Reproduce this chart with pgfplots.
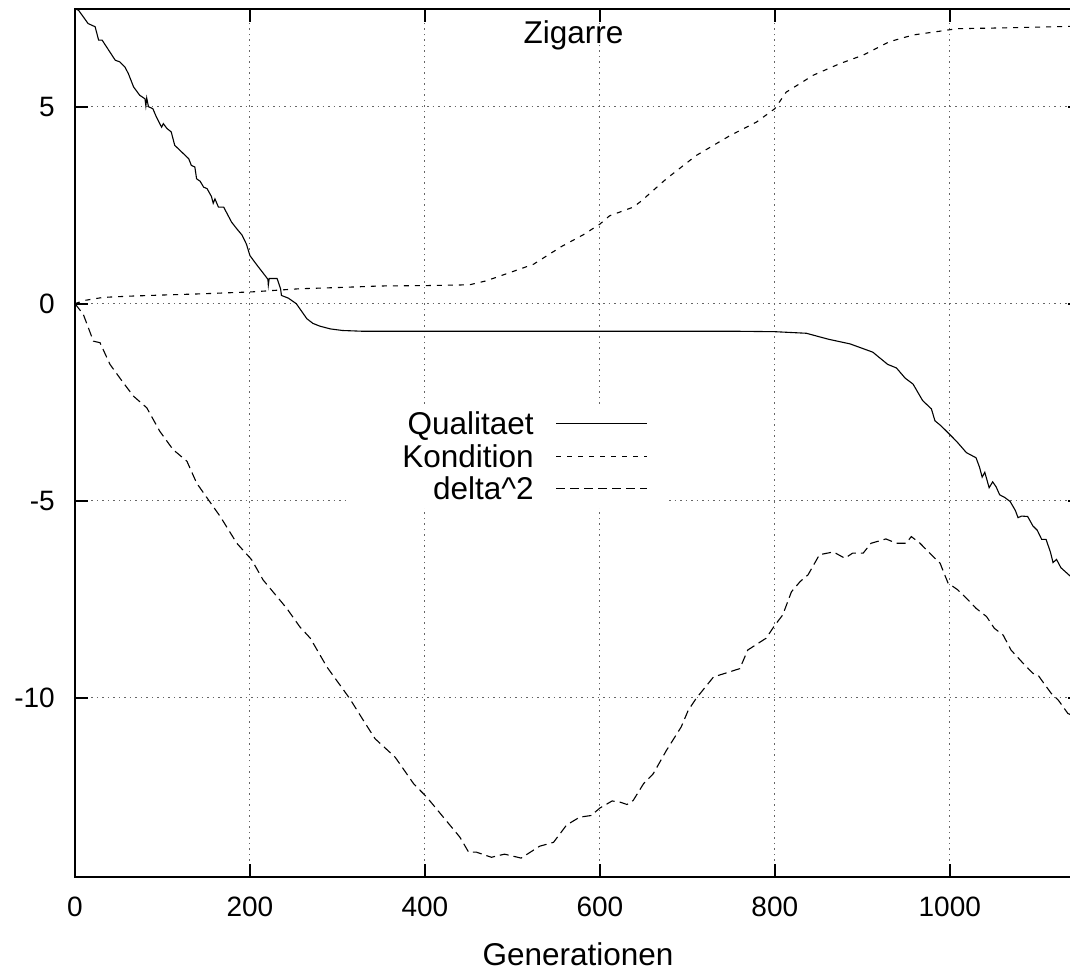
\documentclass[border=0pt]{standalone}
\usepackage{fontspec}
\setmainfont{Liberation Sans}
\usepackage{pgfplots}
\pgfplotsset{compat=1.18}
\newcommand{\F}{\fontsize{28bp}{32bp}\selectfont}
\newcommand{\G}{\fontsize{31.5bp}{36bp}\selectfont}
\begin{document}
\begin{tikzpicture}
\begin{axis}[
  scale only axis,
  width=1006bp, height=868bp,
  xmin=0, xmax=1150, ymin=-14.55, ymax=7.48,
  xtick={0,200,400,600,800,1000},
  xticklabels={0,200,400,600,800,1000},
  ytick={-10,-5,0,5},
  yticklabels={-10,-5,0,5},
  tick align=inside,
  major tick length=13bp,
  tick style={line width=2bp, black},
  axis line style={line width=2bp},
  grid=major,
  grid style={line width=1bp, black!60, dash pattern=on 1.5bp off 4bp},
  every tick label/.append style={inner sep=0pt, font=\F},
  xticklabel style={yshift=-20bp},
  yticklabel style={xshift=-20bp},
  xlabel={Generationen},
  xlabel style={at={(axis description cs:0.5,0)}, anchor=base, yshift=-88bp, font=\G, inner sep=0pt, text depth=0pt},
  title={Zigarre},
  title style={at={(axis description cs:0.4955,1)}, anchor=base, yshift=-40bp, font=\G},
  legend plot pos=right,
  legend cell align=right,
  legend style={draw=none, fill=white, at={(0.5865,0.5445)}, anchor=north east,
    inner xsep=0pt, inner ysep=5bp, row sep=4.5bp, column sep=22bp, font=\G,
    nodes={inner sep=0pt, text height=25bp, text depth=3bp}},
  legend image code/.code={\draw[#1] (0bp,0bp) -- (91bp,0bp); \path (108bp,0bp);},
]
\addplot[black, line width=1.1bp] table[x=x, y=y] {
x y
0 7.48
4 7.45
15 7.11
23 7.03
27 6.69
31 6.69
46 6.18
51 6.14
57 6.01
61 5.84
67 5.50
74 5.29
80 5.20
81 5.02
82 5.22
84 5.00
89 4.95
93 4.74
99 4.48
101 4.57
105 4.45
110 4.36
114 4.02
122 3.85
130 3.68
133 3.51
137 3.47
139 3.17
143 3.11
147 2.96
151 2.92
156 2.72
158 2.55
160 2.66
164 2.45
170 2.45
179 2.07
185 1.90
191 1.74
196 1.51
200 1.22
208 0.98
215 0.78
220.5 0.62
221 0.47
222 0.64
231 0.64
235 0.38
236 0.21
244 0.14
253 0.00
265 -0.38
272 -0.50
280 -0.57
292 -0.64
306 -0.68
330 -0.70
400 -0.70
500 -0.70
600 -0.70
700 -0.70
760 -0.70
800 -0.71
836 -0.75
861 -0.90
886 -1.02
912 -1.23
929 -1.54
939 -1.63
949 -1.89
958 -2.04
969 -2.46
979 -2.67
983 -2.97
990 -3.10
1000 -3.32
1008 -3.50
1019 -3.78
1030 -3.91
1034 -4.15
1037 -4.40
1040 -4.28
1045 -4.67
1049 -4.52
1053 -4.65
1057 -4.85
1063 -4.92
1069 -5.02
1075 -5.25
1078 -5.43
1082 -5.39
1089 -5.40
1095 -5.64
1100 -5.75
1105 -5.98
1110 -5.98
1115 -6.30
1118 -6.57
1122 -6.49
1127 -6.70
1133 -6.82
1140 -6.96
};
\addlegendentry{\makebox[185bp][r]{Qualitaet}}
\addplot[black, line width=1.1bp, dash pattern=on 5bp off 6bp] table[x=x, y=y] {
x y
0 0.00
10 0.08
32 0.16
60 0.19
100 0.22
143 0.25
202 0.30
257 0.38
300 0.41
349 0.45
402 0.46
451 0.48
470 0.58
497 0.79
524 1.00
556 1.45
581 1.75
600 2.02
611 2.23
638 2.45
647 2.60
676 3.17
710 3.76
749 4.27
779 4.61
800 4.95
813 5.37
844 5.80
874 6.09
901 6.31
931 6.65
958 6.82
996 6.94
1008 6.98
1060 7.00
1100 7.02
1140 7.04
};
\addlegendentry{\makebox[185bp][r]{Kondition}}
\addplot[black, line width=1.1bp, dash pattern=on 9bp off 5bp] table[x=x, y=y] {
x y
0 0.00
9.5 -0.27
21 -0.95
28.6 -0.99
40 -1.54
55 -2.00
67 -2.35
82 -2.64
97 -3.24
112 -3.70
128 -4.00
139 -4.55
151 -4.93
166 -5.40
185 -6.08
202 -6.50
215 -7.01
242 -7.73
257 -8.20
269 -8.49
288 -9.22
314 -10.02
329.5 -10.57
343 -11.04
366 -11.51
387 -12.18
402 -12.52
440 -13.54
450 -13.92
459 -13.92
476 -14.05
491 -13.97
510 -14.07
531 -13.77
547 -13.67
562 -13.23
577 -13.03
590 -12.99
600 -12.80
614 -12.62
623 -12.65
631 -12.71
638 -12.61
650 -12.18
661 -11.93
676 -11.34
693 -10.74
701 -10.32
710 -10.02
730 -9.47
749 -9.34
760 -9.26
769 -8.79
790 -8.49
800 -8.16
809 -7.90
819 -7.31
829 -7.05
838 -6.88
851 -6.37
867 -6.30
880 -6.46
889 -6.33
901 -6.33
910 -6.08
927 -5.97
939 -6.08
950 -6.08
956 -5.91
966 -6.08
977 -6.33
989 -6.59
992 -6.76
998 -7.09
1009 -7.26
1021 -7.52
1030 -7.73
1042 -7.94
1051 -8.24
1061 -8.41
1070 -8.79
1084 -9.13
1095 -9.38
1101 -9.43
1109 -9.68
1116 -9.89
1124 -10.06
1135 -10.40
1140 -10.45
};
\addlegendentry{\makebox[185bp][r]{delta\textasciicircum2}}
\end{axis}
\pgfresetboundingbox
\path (-75bp,-93bp) rectangle (995bp,877bp);
\end{tikzpicture}
\end{document}
